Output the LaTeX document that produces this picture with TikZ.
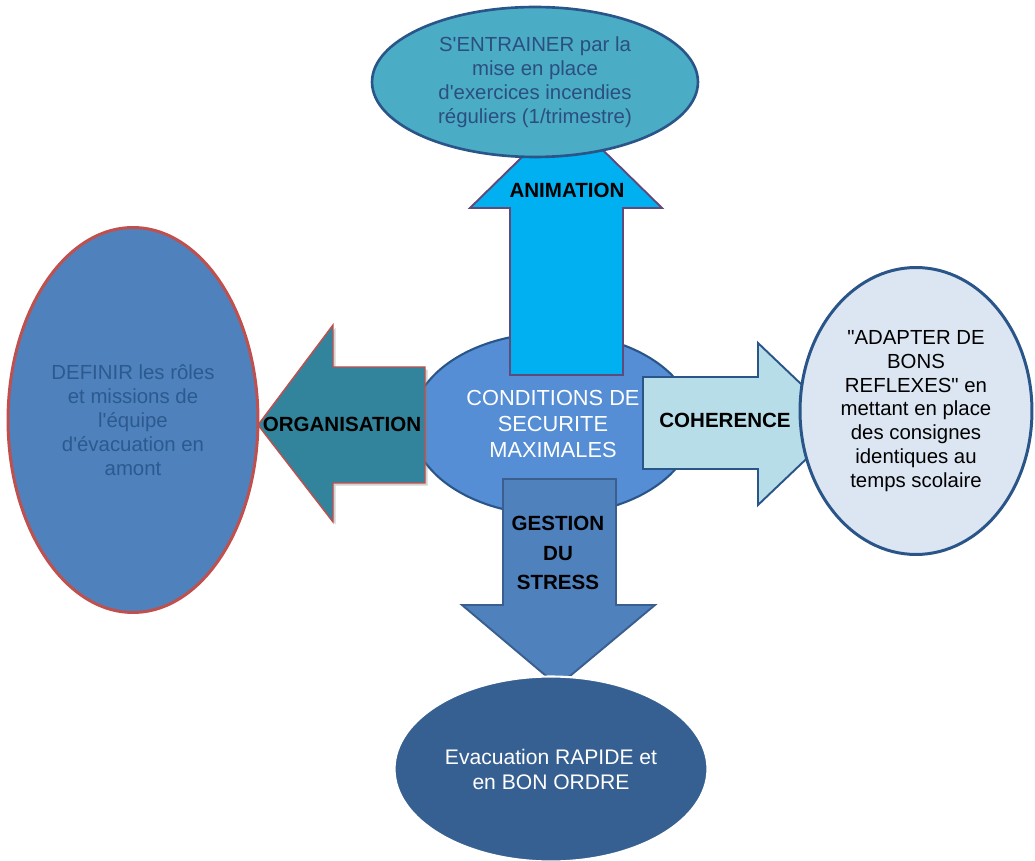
\documentclass[tikz,border=0pt]{standalone}
\usepackage{fontspec}
\setmainfont{Liberation Sans}
\usetikzlibrary{shapes.geometric, shadows}

\definecolor{bleuExo}{HTML}{4BACC6}
\definecolor{texteExo}{HTML}{2B4F80}
\definecolor{bordBleu}{HTML}{2A5589}
\definecolor{fondCentre}{HTML}{558ED5}
\definecolor{cyanAnim}{HTML}{00B0F0}
\definecolor{bordViolet}{HTML}{604A7B}
\definecolor{tealOrga}{HTML}{31849B}
\definecolor{rougeBord}{HTML}{C0504D}
\definecolor{bleuDefinir}{HTML}{4F81BD}
\definecolor{texteDefinir}{HTML}{2C5A8E}
\definecolor{cielCoher}{HTML}{B7DEE8}
\definecolor{fondAdapter}{HTML}{DCE6F2}
\definecolor{bordStress}{HTML}{3A5F8F}
\definecolor{bleuEvac}{HTML}{376092}

\newcommand{\apo}{\textquotesingle}
\newcommand{\guil}{\textquotedbl}

\tikzset{
    bulle/.style={ellipse, inner sep=0pt, align=center, font=\fontsize{11.6}{13.6}\selectfont},
    fleche/.style={line width=1.1pt, line join=miter},
    etiquette/.style={font=\fontsize{11.7}{17}\selectfont\bfseries, align=center}
}

\begin{document}
\begin{tikzpicture}[x=0.02cm, y=-0.02cm]
    \useasboundingbox (0,0) rectangle (1035,861);

    % centre
    \node (centre) [bulle, fill=fondCentre, draw=bordBleu, line width=1.2pt, minimum width=5.64cm, minimum height=3.64cm, text=white, font=\fontsize{12.4}{14.7}\selectfont] at (553,424) {CONDITIONS DE\\SECURITE\\MAXIMALES};

    % fleches
    \draw [fleche, fill=cyanAnim, draw=bordViolet] (510,375) -- (510,208) -- (470,208) -- (566,114) -- (662,208) -- (623,208) -- (623,375) -- cycle;
    \draw [fleche, line width=0.8pt, fill=tealOrga, draw=rougeBord, drop shadow={shadow xshift=1.5pt, shadow yshift=-1.5pt, opacity=0.35}] (425,367) -- (333,367) -- (333,325) -- (258,425) -- (333,522) -- (333,483) -- (425,483) -- cycle;
    \draw [fleche, fill=cielCoher, draw=bordBleu] (643,377) -- (758,377) -- (758,343) -- (843,424) -- (758,505) -- (758,469) -- (643,469) -- cycle;
    \draw [fleche, fill=bleuDefinir, draw=bordStress] (503,479) -- (616,479) -- (616,605) -- (655,605) -- (558,686) -- (462,605) -- (503,605) -- cycle;

    \node (animation) [etiquette] at (567,190) {ANIMATION};
    \node (organisation) [etiquette] at (342,424) {ORGANISATION};
    \node (coherence) [etiquette] at (725,420) {COHERENCE};
    \node (stress) [etiquette] at (558,553) {GESTION\\DU\\STRESS};

    % bulles
    \node (exercices) [bulle, fill=bleuExo, draw=bordBleu, line width=1.5pt, minimum width=6.52cm, minimum height=3.0cm, text=texteExo] at (535,82) {S\apo ENTRAINER par la\\mise en place\\d\apo exercices incendies\\réguliers (1/trimestre)};
    \node (definir) [bulle, fill=bleuDefinir, draw=rougeBord, line width=1.7pt, minimum width=5.0cm, minimum height=7.7cm, text=texteDefinir] at (133,420) {DEFINIR les rôles\\et missions de\\l\apo équipe\\d\apo évacuation en\\amont};
    \node (reflexes) [bulle, fill=fondAdapter, draw=bordBleu, line width=1.7pt, minimum width=4.64cm, minimum height=5.74cm] at (916,411) {\guil ADAPTER DE\\BONS\\REFLEXES\guil{} en\\mettant en place\\des consignes\\identiques au\\temps scolaire};
    \node (evacuation) [bulle, fill=bleuEvac, draw=white, line width=1.2pt, minimum width=6.26cm, minimum height=3.7cm, text=white, font=\fontsize{12}{14.2}\selectfont] at (551,769) {Evacuation RAPIDE et\\en BON ORDRE};
\end{tikzpicture}
\end{document}
